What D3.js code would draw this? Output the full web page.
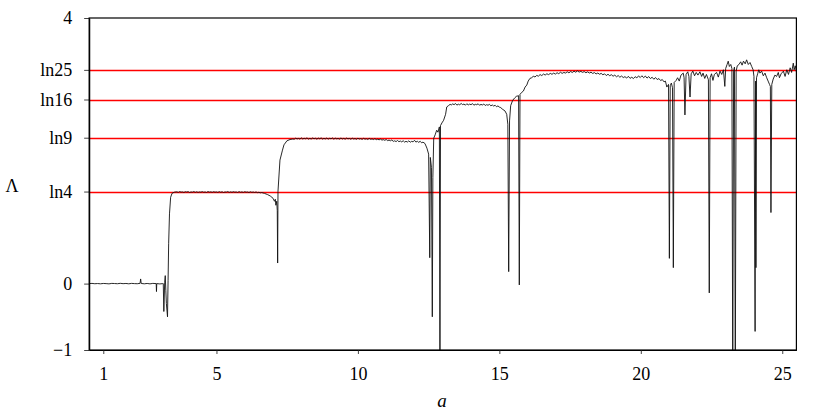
<!DOCTYPE html>
<html>
<head>
<meta charset="utf-8">
<script src="https://cdn.jsdelivr.net/npm/d3@7"></script>
<style>
  body { margin: 0; background: #fff; }
</style>
</head>
<body>
<div id="chart"></div>
<script>
var serif = "'Liberation Serif', 'Times New Roman', Times, serif";

// tick values and labels
var xTicks = [1, 5, 10, 15, 20, 25];
var yTicks = [-1, 0, Math.log(4), Math.log(9), Math.log(16), Math.log(25), 4];
var yTickLabels = ["\u22121", "0", "ln4", "ln9", "ln16", "ln25", "4"];
// red reference levels
var levels = [Math.log(4), Math.log(9), Math.log(16), Math.log(25)];

// Lyapunov exponent vs a [a, Lambda]
var lyap = [
  [0.5, 0.0], [0.6, 0.003], [0.7, -0.002], [0.8, 0.001], [0.9, -0.003], [1.0, 0.002],
  [1.1, 0.0], [1.2, -0.004], [1.3, 0.003], [1.4, 0.001], [1.5, -0.002], [1.6, 0.004],
  [1.7, -0.001], [1.8, 0.002], [1.9, -0.003], [2.0, 0.003], [2.1, 0.0], [2.2, -0.002],
  [2.3, 0.004], [2.32, 0.07], [2.34, 0.002], [2.45, -0.003], [2.55, 0.002], [2.65, -0.004],
  [2.75, 0.003], [2.87, 0.0], [2.88, -0.12], [2.89, 0.0], [3.0, -0.005], [3.1, 0.0],
  [3.12, 0.0], [3.14, -0.42], [3.17, 0.02], [3.19, 0.12], [3.21, -0.1], [3.23, -0.3],
  [3.27, -0.5], [3.29, 0.05], [3.31, 0.6], [3.34, 1.05], [3.38, 1.3], [3.43, 1.36],
  [3.52, 1.378],
  // period-2 plateau
  [3.6, 1.382], [3.65, 1.374], [3.7, 1.386], [3.75, 1.378], [3.8, 1.381], [3.85, 1.373],
  [3.9, 1.384], [3.95, 1.379], [4.0, 1.385], [4.05, 1.372], [4.1, 1.38], [4.15, 1.377],
  [4.2, 1.386], [4.25, 1.375], [4.3, 1.383], [4.35, 1.374], [4.4, 1.381], [4.45, 1.377],
  [4.5, 1.385], [4.55, 1.376], [4.6, 1.38], [4.65, 1.373], [4.7, 1.386], [4.75, 1.378],
  [4.8, 1.382], [4.85, 1.375], [4.9, 1.384], [4.95, 1.377], [5.0, 1.381], [5.05, 1.374],
  [5.1, 1.385], [5.15, 1.376], [5.2, 1.383], [5.25, 1.372], [5.3, 1.38], [5.35, 1.378],
  [5.4, 1.386], [5.45, 1.374], [5.5, 1.382], [5.55, 1.375], [5.6, 1.384], [5.65, 1.377],
  [5.7, 1.38], [5.75, 1.373], [5.8, 1.385], [5.85, 1.376], [5.9, 1.381], [5.95, 1.374],
  [6.0, 1.384], [6.05, 1.377], [6.1, 1.38], [6.15, 1.372], [6.2, 1.383], [6.25, 1.375],
  [6.3, 1.379], [6.35, 1.373], [6.4, 1.38], [6.45, 1.37], [6.5, 1.375], [6.55, 1.367],
  [6.6, 1.371], [6.7, 1.358], [6.8, 1.342], [6.9, 1.32], [7.0, 1.285], [7.05, 1.24],
  [7.08, 1.27], [7.1, 1.18], [7.13, 1.24], [7.15, 1.1], [7.163, 0.31], [7.175, 1.39],
  [7.245, 1.86], [7.334, 2.01], [7.387, 2.09], [7.49, 2.15], [7.6, 2.17], [7.7, 2.178],
  // period-3 plateau
  [7.75, 2.174], [7.8, 2.19], [7.85, 2.179], [7.9, 2.186], [7.95, 2.176], [8.0, 2.194],
  [8.05, 2.178], [8.1, 2.188], [8.15, 2.181], [8.2, 2.195], [8.25, 2.176], [8.3, 2.186],
  [8.35, 2.178], [8.4, 2.193], [8.45, 2.182], [8.5, 2.189], [8.55, 2.175], [8.6, 2.191],
  [8.65, 2.181], [8.7, 2.194], [8.75, 2.177], [8.8, 2.187], [8.85, 2.179], [8.9, 2.192],
  [8.95, 2.176], [9.0, 2.188], [9.05, 2.181], [9.1, 2.193], [9.15, 2.175], [9.2, 2.19],
  [9.25, 2.18], [9.3, 2.186], [9.35, 2.176], [9.4, 2.193], [9.45, 2.178], [9.5, 2.187],
  [9.55, 2.175], [9.6, 2.191], [9.65, 2.18], [9.7, 2.186], [9.75, 2.174], [9.8, 2.19],
  [9.85, 2.178], [9.9, 2.184], [9.95, 2.173], [10.0, 2.189], [10.05, 2.177], [10.1, 2.183],
  [10.15, 2.172], [10.2, 2.188], [10.25, 2.175], [10.3, 2.181], [10.35, 2.171], [10.4, 2.187],
  [10.45, 2.173], [10.5, 2.18], [10.55, 2.169], [10.6, 2.183], [10.65, 2.168], [10.7, 2.175],
  [10.75, 2.165], [10.8, 2.177], [10.85, 2.161], [10.9, 2.168], [10.95, 2.158], [11.0, 2.17],
  [11.05, 2.153], [11.1, 2.161], [11.15, 2.151], [11.2, 2.163], [11.25, 2.142], [11.3, 2.15],
  [11.35, 2.139], [11.4, 2.155], [11.45, 2.137], [11.5, 2.147], [11.55, 2.134], [11.6, 2.152],
  [11.65, 2.131], [11.7, 2.143], [11.75, 2.132], [11.8, 2.15], [11.85, 2.129], [11.9, 2.142],
  [11.95, 2.135], [12.0, 2.158], [12.05, 2.131], [12.1, 2.144], [12.15, 2.127], [12.2, 2.144],
  [12.25, 2.121], [12.3, 2.13], [12.37, 2.11], [12.44, 2.04],
  [12.5, 1.95], [12.54, 0.39], [12.56, 1.9], [12.6, 1.75], [12.63, -0.5], [12.65, 1.6],
  [12.68, 2.19], [12.73, 2.24], [12.785, 2.31], [12.83, 2.28], [12.88, 2.36], [12.9, -1.5],
  [12.92, 2.38], [12.97, 2.42], [13.03, 2.46], [13.1, 2.55], [13.14, 2.66], [13.2, 2.68],
  [13.26, 2.70],
  // period-4 plateau
  [13.3, 2.69], [13.35, 2.706], [13.4, 2.695], [13.45, 2.712], [13.5, 2.688], [13.55, 2.702],
  [13.6, 2.693], [13.65, 2.713], [13.7, 2.696], [13.75, 2.704], [13.8, 2.687], [13.85, 2.709],
  [13.9, 2.691], [13.95, 2.703], [14.0, 2.694], [14.05, 2.711], [14.1, 2.687], [14.15, 2.7],
  [14.2, 2.694], [14.25, 2.708], [14.3, 2.686], [14.35, 2.699], [14.4, 2.69], [14.45, 2.705],
  [14.5, 2.682], [14.55, 2.695], [14.6, 2.686], [14.65, 2.7], [14.7, 2.677], [14.75, 2.69],
  [14.8, 2.674], [14.85, 2.686], [14.9, 2.664], [14.95, 2.676], [15.0, 2.658], [15.05, 2.65],
  [15.1, 2.63], [15.2, 2.6], [15.26, 2.55], [15.3, 2.4], [15.33, 0.18], [15.36, 2.45],
  [15.4, 2.68], [15.47, 2.76], [15.55, 2.8], [15.6, 2.82], [15.68, 2.83], [15.705, -0.02],
  [15.73, 2.85], [15.79, 2.88], [15.85, 2.9], [15.91, 2.96], [15.97, 2.99], [16.02, 3.05],
  [16.08, 3.09],
  // period-5 region
  [16.14, 3.1], [16.2, 3.122], [16.26, 3.112], [16.32, 3.135], [16.38, 3.124], [16.44, 3.148],
  [16.5, 3.133], [16.56, 3.156], [16.62, 3.141], [16.68, 3.16], [16.74, 3.147], [16.8, 3.166],
  [16.86, 3.152], [16.92, 3.17], [16.98, 3.155], [17.04, 3.176], [17.1, 3.161], [17.16, 3.183],
  [17.22, 3.166], [17.28, 3.18], [17.34, 3.171], [17.4, 3.19], [17.46, 3.174], [17.52, 3.194],
  [17.58, 3.179], [17.64, 3.199], [17.7, 3.183], [17.76, 3.204], [17.82, 3.185], [17.88, 3.196],
  [17.94, 3.181], [18.0, 3.193], [18.06, 3.175], [18.12, 3.189], [18.18, 3.171], [18.24, 3.184],
  [18.3, 3.165], [18.36, 3.178], [18.42, 3.158], [18.48, 3.171], [18.54, 3.153], [18.6, 3.166],
  [18.66, 3.145], [18.72, 3.159], [18.78, 3.133], [18.84, 3.153], [18.9, 3.131], [18.96, 3.146],
  [19.02, 3.123], [19.08, 3.14], [19.14, 3.115], [19.2, 3.133], [19.26, 3.108], [19.32, 3.126],
  [19.38, 3.103], [19.44, 3.117], [19.5, 3.095], [19.56, 3.122], [19.62, 3.091], [19.68, 3.108],
  [19.74, 3.088], [19.8, 3.116], [19.86, 3.098], [19.92, 3.128], [19.98, 3.103], [20.04, 3.13],
  [20.1, 3.101], [20.16, 3.126], [20.22, 3.095], [20.28, 3.118], [20.34, 3.088], [20.4, 3.108],
  [20.46, 3.078], [20.52, 3.103], [20.58, 3.073], [20.64, 3.088], [20.7, 3.058], [20.76, 3.073],
  [20.82, 3.038], [20.87, 3.05],
  // noisy right end
  [20.92, 2.96], [20.98, 3.0], [21.01, 0.38], [21.04, 2.98], [21.08, 3.02], [21.12, 2.95],
  [21.15, 0.24], [21.18, 3.03], [21.25, 3.06], [21.3, 3.1], [21.36, 3.05], [21.42, 3.14],
  [21.5, 3.17], [21.53, 3.1], [21.56, 2.54], [21.6, 3.15], [21.66, 3.19], [21.7, 3.12],
  [21.74, 2.81], [21.78, 3.16], [21.84, 3.2], [21.9, 3.13], [21.96, 3.18], [22.02, 3.14],
  [22.09, 3.19], [22.15, 3.12], [22.2, 3.17], [22.26, 3.09], [22.32, 3.15], [22.39, 3.07],
  [22.42, -0.14], [22.45, 3.1], [22.5, 3.16], [22.55, 3.06], [22.6, 3.15], [22.68, 3.18],
  [22.74, 3.11], [22.8, 3.2], [22.86, 3.15], [22.92, 3.22], [22.97, 2.97], [23.0, 3.24],
  [23.05, 3.3], [23.09, 3.35], [23.13, 3.27], [23.18, 3.3], [23.22, 3.24], [23.25, -1.5],
  [23.28, 3.2], [23.31, 3.26], [23.34, -1.5], [23.37, 3.2], [23.41, 3.28], [23.47, 3.3],
  [23.53, 3.34], [23.58, 3.29], [23.63, 3.35], [23.69, 3.31], [23.74, 3.37], [23.8, 3.3],
  [23.86, 3.33], [23.92, 3.27], [23.97, 3.22], [24.0, 3.12], [24.04, -0.72], [24.06, 3.05],
  [24.07, 0.24], [24.09, 3.1], [24.13, 3.16], [24.17, 3.22], [24.21, 3.17], [24.27, 3.2],
  [24.33, 3.13], [24.39, 3.17], [24.45, 3.1], [24.5, 3.05], [24.55, 3.0], [24.58, 2.97],
  [24.6, 1.07], [24.63, 3.0], [24.68, 3.08], [24.74, 3.14], [24.8, 3.12], [24.86, 3.18],
  [24.9, 3.1], [24.96, 3.16], [25.04, 3.2], [25.1, 3.12], [25.16, 3.22], [25.22, 3.15],
  [25.28, 3.25], [25.33, 3.18], [25.39, 3.32], [25.42, 3.22], [25.46, 3.28], [25.5, 3.19]
];

var margin = {top: 18, right: 33.6, bottom: 65, left: 89.15},
    width = 830 - margin.left - margin.right,
    height = 415 - margin.top - margin.bottom;

var svg = d3.select("#chart")
  .append("svg")
    .attr("width", 830)
    .attr("height", 415)
  .append("g")
    .attr("transform", "translate(" + margin.left + "," + margin.top + ")");

var x = d3.scaleLinear().domain([0.5, 25.5]).range([0, width]);
var y = d3.scaleLinear().domain([-1, 4]).range([height, 0]);

svg.append("clipPath")
    .attr("id", "plotclip")
  .append("rect")
    .attr("width", width)
    .attr("height", height);

// red reference lines, snapped to whole pixels so they stay bright red
function snapY(v) { return Math.round(y(v) + margin.top) - margin.top + 0.5; }

svg.selectAll(".level")
  .data(levels)
  .enter()
  .append("line")
    .attr("x1", 0)
    .attr("x2", width)
    .attr("y1", function(d) { return snapY(d); })
    .attr("y2", function(d) { return snapY(d); })
    .attr("stroke", "#ff0000")
    .attr("stroke-width", 1.3);

// the curve
var line = d3.line()
  .x(function(d) { return x(d[0]); })
  .y(function(d) { return y(d[1]); });

svg.append("path")
  .datum(lyap)
  .attr("clip-path", "url(#plotclip)")
  .attr("d", line)
  .attr("fill", "none")
  .attr("stroke", "#111")
  .attr("stroke-width", 0.9)
  .attr("stroke-linejoin", "round");

// axes
var xAxis = svg.append("g")
  .attr("transform", "translate(0," + height + ")")
  .call(d3.axisBottom(x).tickValues(xTicks).tickSize(4).tickPadding(13).tickSizeOuter(0));

var yAxis = svg.append("g")
  .call(d3.axisLeft(y).tickValues(yTicks)
    .tickFormat(function(d, i) { return yTickLabels[i]; })
    .tickSize(5).tickPadding(12).tickSizeOuter(0));

[xAxis, yAxis].forEach(function(g) {
  g.attr("font-family", serif).attr("font-size", 18);
  g.selectAll("text").style("font-family", serif).style("font-size", "18px").attr("fill", "#000");
  g.selectAll("line").attr("stroke", "#444");
  g.select(".domain").attr("stroke", "#000").attr("stroke-width", 1.2);
});

// box
svg.append("rect")
  .attr("width", width)
  .attr("height", height)
  .attr("fill", "none")
  .attr("stroke", "#000")
  .attr("stroke-width", 1.2);

// axis titles
svg.append("text")
  .attr("x", 12 - margin.left)
  .attr("y", 192 - margin.top)
  .attr("text-anchor", "middle")
  .style("font-family", serif)
  .style("font-size", "18px")
  .text("\u039B");

svg.append("text")
  .attr("x", 442 - margin.left)
  .attr("y", 407 - margin.top)
  .attr("text-anchor", "middle")
  .style("font-family", serif)
  .style("font-size", "19px")
  .style("font-style", "italic")
  .text("a");
</script>
</body>
</html>
